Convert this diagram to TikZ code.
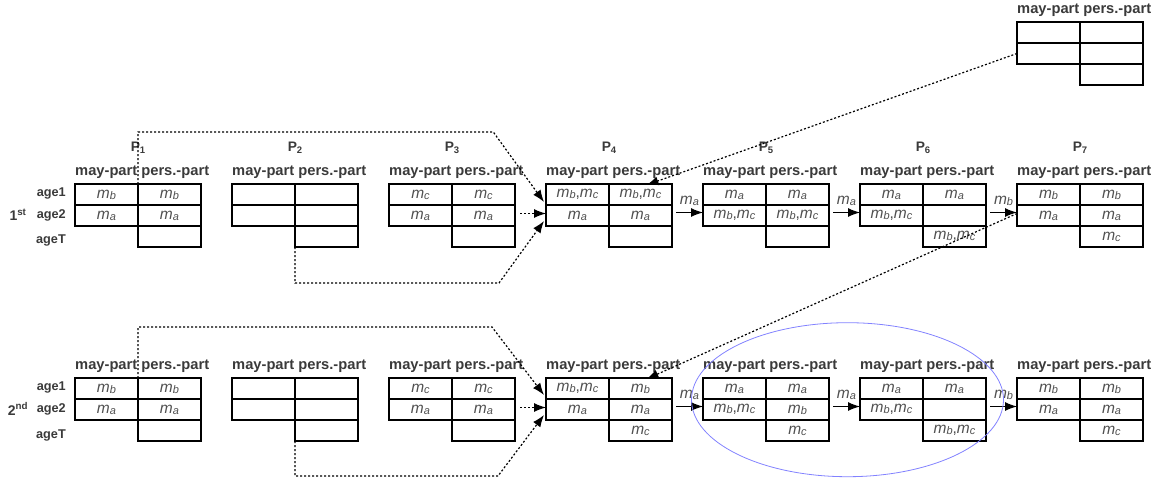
\documentclass[tikz,border=0pt]{standalone}
\usepackage{fontspec}
\setmainfont{Liberation Sans}
\usetikzlibrary{arrows.meta,calc,shapes.geometric}
\definecolor{txt}{HTML}{3A3A3A}
\definecolor{celltxt}{HTML}{505050}
\definecolor{ring}{HTML}{8282FF}

% message m with its index
\newcommand\msub[1]{\textit{m}\raisebox{-1.2pt}{\fontsize{11}{11}\selectfont\textit{#1}}}
% partition label P with its index
\newcommand\psub[1]{P\raisebox{-1.5pt}{\fontsize{9.5}{9.5}\selectfont #1}}

\tikzset{
  cell/.style={draw=black, line width=1.2pt, minimum width=63pt, minimum height=21pt,
    inner sep=0pt, outer sep=0pt, font=\fontsize{15.5}{16}\selectfont, text=celltxt},
  head/.style={anchor=west, inner sep=0pt, font=\bfseries\fontsize{14.7}{15}\selectfont, text=txt},
  plabel/.style={inner sep=0pt, font=\bfseries\fontsize{13.8}{14}\selectfont, text=txt},
  agelabel/.style={anchor=east, inner sep=0pt, font=\bfseries\fontsize{12.7}{13}\selectfont, text=txt},
  roundlabel/.style={inner sep=0pt, font=\bfseries\fontsize{14}{14}\selectfont, text=txt},
  link/.style={line width=1.2pt, dash pattern=on 2pt off 2pt, -{Latex[length=12pt,width=9pt]}},
  move/.style={line width=1.2pt, -{Latex[length=12pt,width=9pt]}},
  movelabel/.style={inner sep=0pt, font=\fontsize{15.5}{16}\selectfont, text=celltxt, above=6pt},
}

% one partition table: name, left x, top y, may/age1, pers/age1, may/age2, pers/age2, pers/ageT
\newcommand\ptab[8]{%
  \node[cell] (#1a1) at (#2+31.5,#3+10.5) {#4};
  \node[cell] (#1b1) at (#2+94.5,#3+10.5) {#5};
  \node[cell] (#1a2) at (#2+31.5,#3+31.5) {#6};
  \node[cell] (#1b2) at (#2+94.5,#3+31.5) {#7};
  \node[cell] (#1bT) at (#2+94.5,#3+52.5) {#8};
  \node[head] (#1h) at (#2,#3-11.5) {may-part pers.-part};
}

\begin{document}
\begin{tikzpicture}[x=1pt,y=-1pt]
\useasboundingbox (0,0) rectangle (1169,479);

% ---------- first round ----------
\ptab{r1p1}{75}{184}{\msub{b}}{\msub{b}}{\msub{a}}{\msub{a}}{}
\ptab{r1p2}{232}{184}{}{}{}{}{}
\ptab{r1p3}{389}{184}{\msub{c}}{\msub{c}}{\msub{a}}{\msub{a}}{}
\ptab{r1p4}{546}{184}{\msub{b},\msub{c}}{\msub{b},\msub{c}}{\msub{a}}{\msub{a}}{}
\ptab{r1p5}{703}{184}{\msub{a}}{\msub{a}}{\msub{b},\msub{c}}{\msub{b},\msub{c}}{}
\ptab{r1p6}{860}{184}{\msub{a}}{\msub{a}}{\msub{b},\msub{c}}{}{\msub{b},\msub{c}}
\ptab{r1p7}{1017}{184}{\msub{b}}{\msub{b}}{\msub{a}}{\msub{a}}{\msub{c}}

\foreach \i/\x in {1/75,2/232,3/389,4/546,5/703,6/860,7/1017}
  \node[plabel] (lab\i) at (\x+63,148) {\psub{\i}};

\node[agelabel] (r1age1) at (66,193.5) {age1};
\node[agelabel] (r1age2) at (66,215) {age2};
\node[agelabel] (r1ageT) at (66,240) {ageT};
\node[roundlabel] (r1) at (18,215) {1\textsuperscript{st}};

% ---------- second round ----------
\ptab{r2p1}{75}{378}{\msub{b}}{\msub{b}}{\msub{a}}{\msub{a}}{}
\ptab{r2p2}{232}{378}{}{}{}{}{}
\ptab{r2p3}{389}{378}{\msub{c}}{\msub{c}}{\msub{a}}{\msub{a}}{}
\ptab{r2p4}{546}{378}{\msub{b},\msub{c}}{\msub{b}}{\msub{a}}{\msub{a}}{\msub{c}}
\ptab{r2p5}{703}{378}{\msub{a}}{\msub{a}}{\msub{b},\msub{c}}{\msub{b}}{\msub{c}}
\ptab{r2p6}{860}{378}{\msub{a}}{\msub{a}}{\msub{b},\msub{c}}{}{\msub{b},\msub{c}}
\ptab{r2p7}{1017}{378}{\msub{b}}{\msub{b}}{\msub{a}}{\msub{a}}{\msub{c}}

\node[agelabel] (r2age1) at (66,387) {age1};
\node[agelabel] (r2age2) at (66,409) {age2};
\node[agelabel] (r2ageT) at (66,435) {ageT};
\node[roundlabel] (r2) at (18,409) {2\textsuperscript{nd}};

% ---------- incoming table ----------
\ptab{tr}{1017}{22}{}{}{}{}{}

% ---------- transfers, first round ----------
\draw[link] (r1p1a1.north east) -- ++(0,-52) -- ++(355.3,0) -- ($(r1p4a1.south west)+(-2,-3)$);
\draw[link] (r1p2bT.south west) -- ++(0,36) -- ++(204,0) -- ($(r1p4a2.south west)+(-2,-5)$);
\draw[link] ($(r1p3b2.east)+(5,-2)$) -- ($(r1p4a2.west)+(0,-2)$);
\draw[link] (tra2.west) -- ($(r1p4b1.north)+(6,1)$);
\draw[move] ($(r1p4b2.east)+(4,-3)$) -- node[movelabel] {\msub{a}} ($(r1p5a2.west)+(0,-3)$);
\draw[move] ($(r1p5b2.east)+(4,-3)$) -- node[movelabel] {\msub{a}} ($(r1p6a2.west)+(0,-3)$);
\draw[move] ($(r1p6b2.east)+(4,-3)$) -- node[movelabel] {\msub{b}} ($(r1p7a2.west)+(0,-3)$);

% ---------- transfers, second round ----------
\draw[link] ($(r1p7a2.west)+(0,-2)$) -- ($(r2p4b1.north)+(6,1)$);
\draw[link] (r2p1a1.north east) -- ++(0,-51) -- ++(354,0) -- ($(r2p4a1.south west)+(-2,-4)$);
\draw[link] (r2p2bT.south west) -- ++(0,35) -- ++(203,0) -- ($(r2p4a2.south west)+(-2,-5)$);
\draw[link] ($(r2p3b2.east)+(5,-2)$) -- ($(r2p4a2.west)+(0,-2)$);
\draw[move] ($(r2p4b2.east)+(4,-3)$) -- node[movelabel] {\msub{a}} ($(r2p5a2.west)+(0,-3)$);
\draw[move] ($(r2p5b2.east)+(4,-3)$) -- node[movelabel] {\msub{a}} ($(r2p6a2.west)+(0,-3)$);
\draw[move] ($(r2p6b2.east)+(4,-3)$) -- node[movelabel] {\msub{b}} ($(r2p7a2.west)+(0,-3)$);

% ---------- highlighted pair ----------
\node[ellipse, draw=ring, line width=0.8pt, minimum width=312pt, minimum height=154pt,
  inner sep=0pt] (focus) at (847.5,399.7) {};
\end{tikzpicture}
\end{document}
